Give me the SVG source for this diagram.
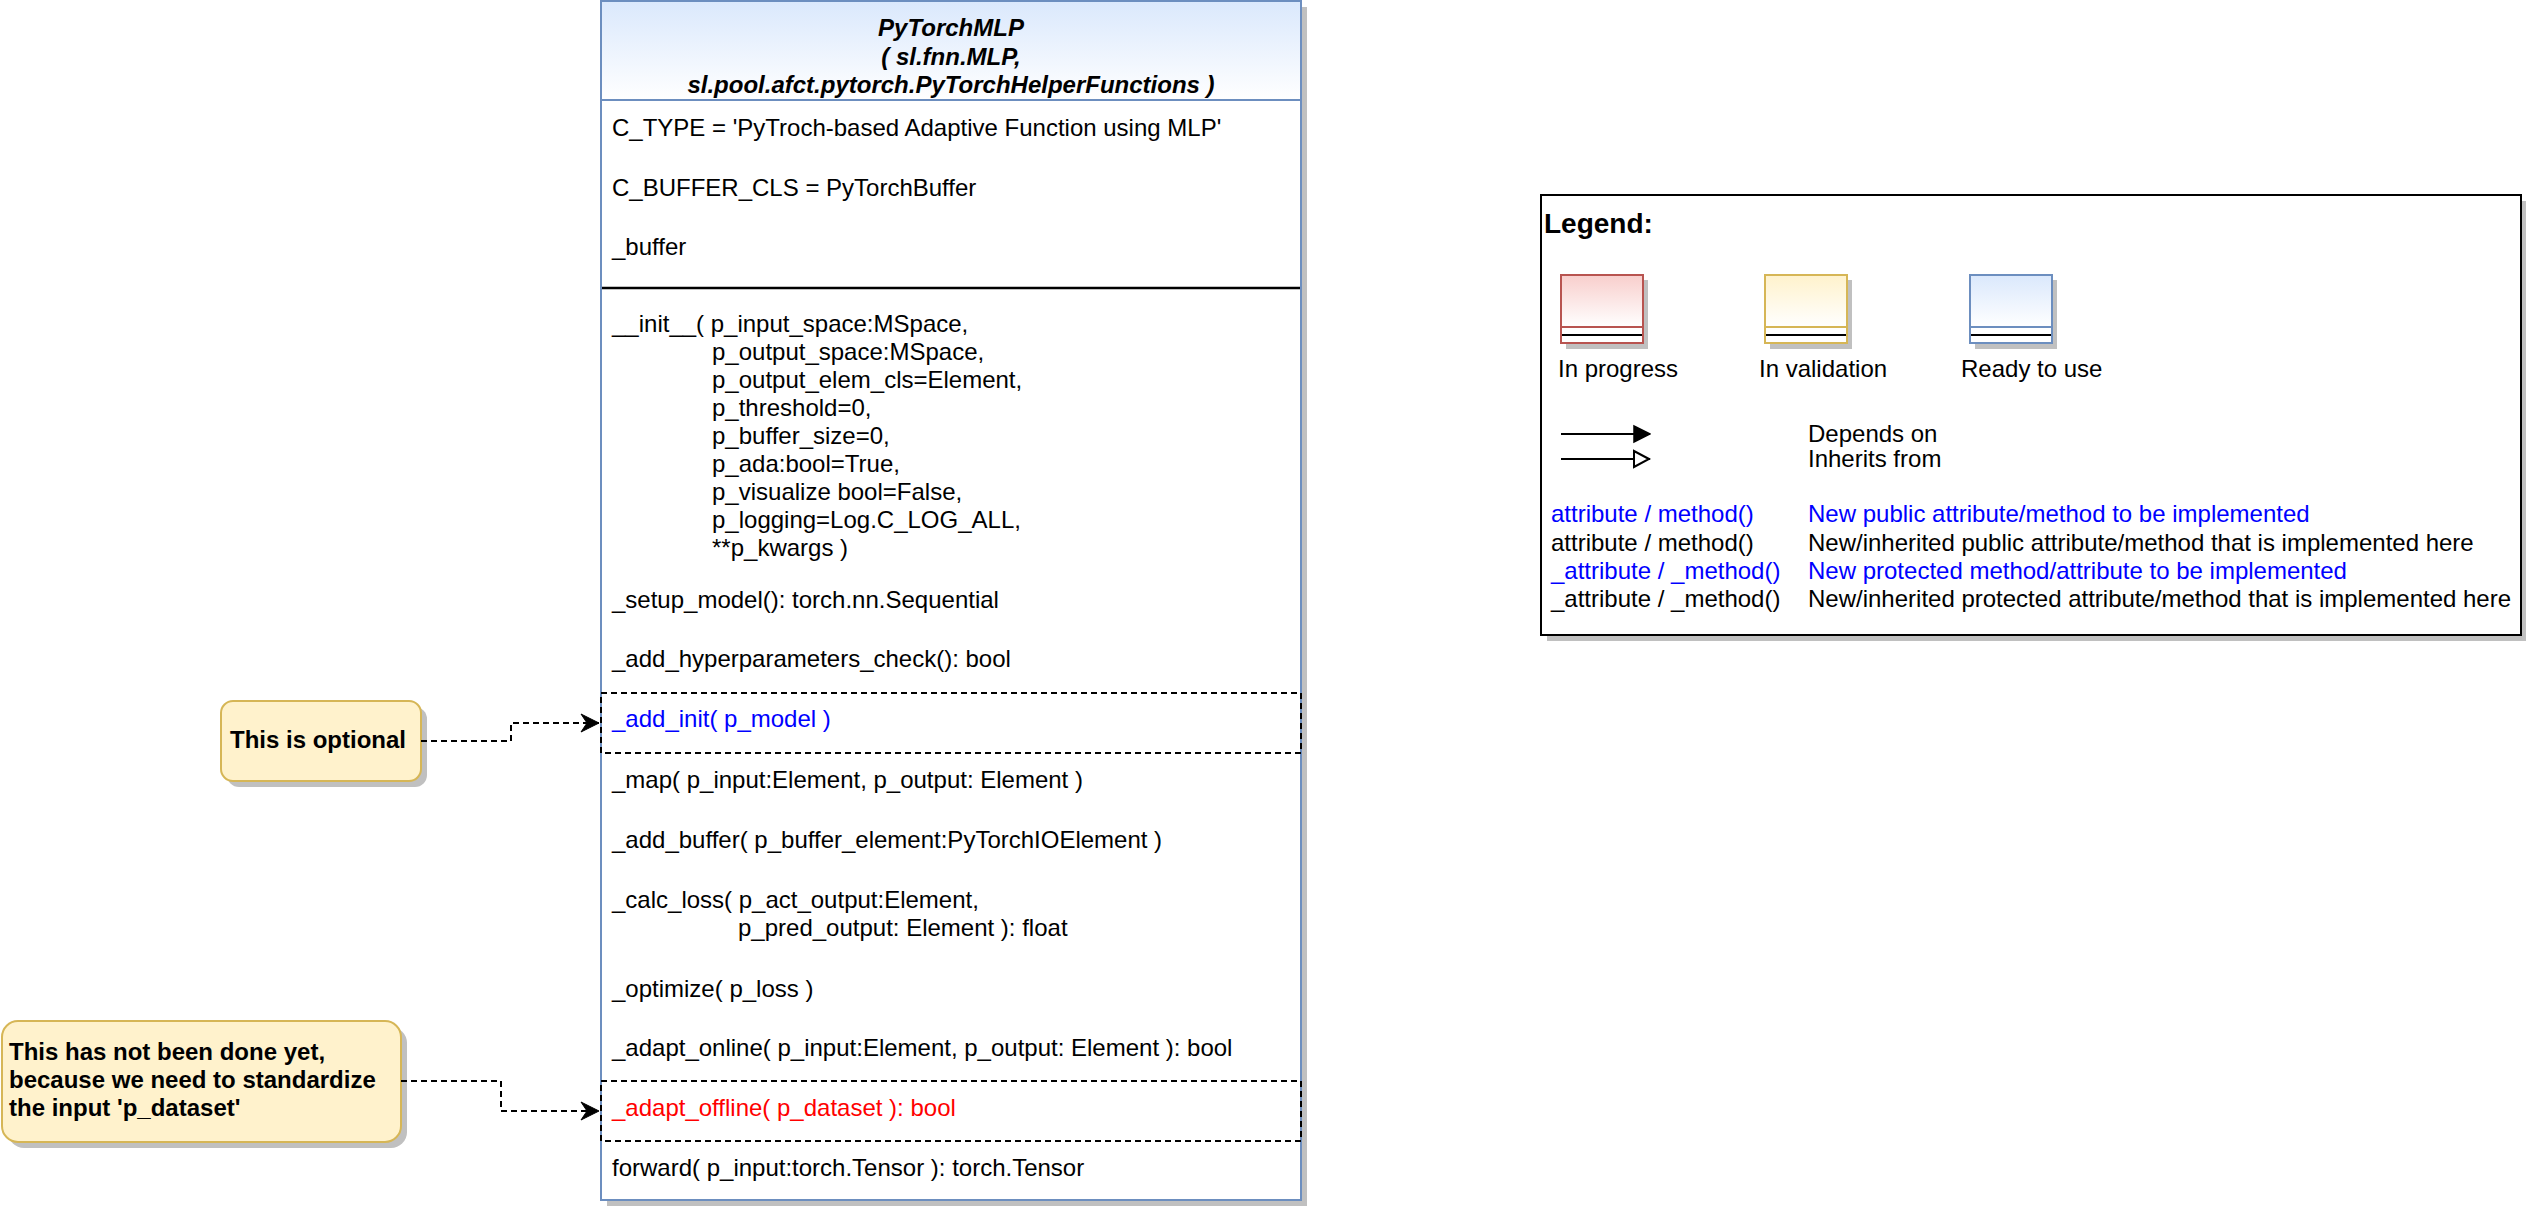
<svg xmlns="http://www.w3.org/2000/svg" width="2526" height="1208" viewBox="0 0 2526 1208">
<defs>
<linearGradient id="gBlue" x1="0" y1="0" x2="0" y2="1"><stop offset="0" stop-color="#dae8fc"/><stop offset="1" stop-color="#ffffff"/></linearGradient>
<linearGradient id="gRed" x1="0" y1="0" x2="0" y2="1"><stop offset="0" stop-color="#f8cecc"/><stop offset="1" stop-color="#ffffff"/></linearGradient>
<linearGradient id="gYellow" x1="0" y1="0" x2="0" y2="1"><stop offset="0" stop-color="#fff2cc"/><stop offset="1" stop-color="#ffffff"/></linearGradient>
<marker id="classic" markerUnits="userSpaceOnUse" markerWidth="20" markerHeight="20" viewBox="-19 -10 20 20" refX="0" refY="0" orient="auto">
<path d="M0,0 L-18,-9 L-12,0 L-18,9 Z" fill="#000" stroke="#000" stroke-width="1"/>
</marker>
<marker id="block" markerUnits="userSpaceOnUse" markerWidth="20" markerHeight="20" viewBox="-19 -10 20 20" refX="0" refY="0" orient="auto">
<path d="M0,0 L-16,-8 L-16,8 Z" fill="#000" stroke="#000" stroke-width="1.5"/>
</marker>
<marker id="blockOpen" markerUnits="userSpaceOnUse" markerWidth="20" markerHeight="20" viewBox="-19 -10 20 20" refX="0" refY="0" orient="auto">
<path d="M-1,0 L-16,-8 L-16,8 Z" fill="#fff" stroke="#000" stroke-width="2"/>
</marker>
</defs>
<style>
text { font-family: "Liberation Sans", Arial, Helvetica, sans-serif; font-size: 24px; fill: #000; }
.b { font-weight: bold; }
.bi { font-weight: bold; font-style: italic; }
.blue { fill: #0000ff; }
.red { fill: #ff0000; }
.shadow { fill: #c0c0c0; stroke: none; }
.dash { fill: none; stroke: #000; stroke-width: 2; stroke-dasharray: 6 4; }
.conn { fill: none; stroke: #000; stroke-width: 2; stroke-dasharray: 6 4; }
.note { fill: #fff2cc; stroke: #d6b656; stroke-width: 2; }
</style>
<rect x="0" y="0" width="2526" height="1208" fill="#ffffff"/>

<g id="PyTorchMLP">
<rect class="shadow" x="607" y="7" width="700" height="1199"/>
<rect x="601" y="1" width="700" height="1199" fill="#ffffff" stroke="none"/>
<rect x="601" y="1" width="700" height="99" fill="url(#gBlue)" stroke="none"/>
<line x1="601" y1="100" x2="1301" y2="100" stroke="#6c8ebf" stroke-width="2"/>
<text class="bi" x="951" y="36" text-anchor="middle">PyTorchMLP</text>
<text class="bi" x="951" y="65" text-anchor="middle">( sl.fnn.MLP,</text>
<text class="bi" x="951" y="93" text-anchor="middle">sl.pool.afct.pytorch.PyTorchHelperFunctions )</text>
<text x="612" y="136">C_TYPE = 'PyTroch-based Adaptive Function using MLP'</text>
<text x="612" y="196">C_BUFFER_CLS = PyTorchBuffer</text>
<text x="612" y="255">_buffer</text>
<line x1="601" y1="288" x2="1301" y2="288" stroke="#000" stroke-width="2.5"/>
<text x="612" y="332">__init__( p_input_space:MSpace,</text>
<text x="712" y="360">p_output_space:MSpace,</text>
<text x="712" y="388">p_output_elem_cls=Element,</text>
<text x="712" y="416">p_threshold=0,</text>
<text x="712" y="444">p_buffer_size=0,</text>
<text x="712" y="472">p_ada:bool=True,</text>
<text x="712" y="500">p_visualize bool=False,</text>
<text x="712" y="528">p_logging=Log.C_LOG_ALL,</text>
<text x="712" y="556">**p_kwargs )</text>
<text x="612" y="608">_setup_model(): torch.nn.Sequential</text>
<text x="612" y="667">_add_hyperparameters_check(): bool</text>
<text x="612" y="788">_map( p_input:Element, p_output: Element )</text>
<text x="612" y="848">_add_buffer( p_buffer_element:PyTorchIOElement )</text>
<text x="612" y="908">_calc_loss( p_act_output:Element,</text>
<text x="738" y="936">p_pred_output: Element ): float</text>
<text x="612" y="997">_optimize( p_loss )</text>
<text x="612" y="1056">_adapt_online( p_input:Element, p_output: Element ): bool</text>
<text x="612" y="1176">forward( p_input:torch.Tensor ): torch.Tensor</text>
<rect x="601" y="1" width="700" height="1199" fill="none" stroke="#6c8ebf" stroke-width="2"/>
</g>

<g id="add_init">
<rect class="dash" x="601" y="693" width="700" height="60"/>
<text class="blue" x="612" y="727">_add_init( p_model )</text>
</g>

<g id="adapt_offline">
<rect class="dash" x="601" y="1081" width="700" height="60"/>
<text class="red" x="612" y="1116">_adapt_offline( p_dataset ): bool</text>
</g>

<g id="note_optional">
<rect class="shadow" x="227" y="707" width="200" height="80" rx="12" ry="12"/>
<rect class="note" x="221" y="701" width="200" height="80" rx="12" ry="12"/>
<text class="b" x="230" y="748">This is optional</text>
</g>

<g id="note_not_done">
<rect class="shadow" x="8" y="1027" width="399" height="121" rx="16" ry="16"/>
<rect class="note" x="2" y="1021" width="399" height="121" rx="16" ry="16"/>
<text class="b" x="9" y="1060">This has not been done yet,</text>
<text class="b" x="9" y="1088">because we need to standardize</text>
<text class="b" x="9" y="1116">the input 'p_dataset'</text>
</g>

<g id="connectors">
<path class="conn" d="M421,741 L511,741 L511,723 L599,723" marker-end="url(#classic)"/>
<path class="conn" d="M401,1081 L501,1081 L501,1111 L599,1111" marker-end="url(#classic)"/>
</g>

<g id="legend">
<rect class="shadow" x="1547" y="201" width="980" height="440"/>
<rect x="1541" y="195" width="980" height="440" fill="#ffffff" stroke="#000" stroke-width="2"/>
<text class="b" x="1544" y="233" style="font-size:28px">Legend:</text>

<g id="legend_in_progress">
<rect class="shadow" x="1566" y="280" width="82" height="69"/>
<rect x="1561" y="275" width="82" height="68" fill="#ffffff"/>
<rect x="1561" y="275" width="82" height="52" fill="url(#gRed)"/>
<line x1="1561" y1="327" x2="1643" y2="327" stroke="#b85450" stroke-width="2"/>
<line x1="1561" y1="335" x2="1643" y2="335" stroke="#000" stroke-width="2"/>
<rect x="1561" y="275" width="82" height="68" fill="none" stroke="#b85450" stroke-width="2"/>
<text x="1558" y="377">In progress</text>
</g>

<g id="legend_in_validation">
<rect class="shadow" x="1770" y="280" width="82" height="69"/>
<rect x="1765" y="275" width="82" height="68" fill="#ffffff"/>
<rect x="1765" y="275" width="82" height="52" fill="url(#gYellow)"/>
<line x1="1765" y1="327" x2="1847" y2="327" stroke="#d6b656" stroke-width="2"/>
<line x1="1765" y1="335" x2="1847" y2="335" stroke="#000" stroke-width="2"/>
<rect x="1765" y="275" width="82" height="68" fill="none" stroke="#d6b656" stroke-width="2"/>
<text x="1759" y="377">In validation</text>
</g>

<g id="legend_ready">
<rect class="shadow" x="1975" y="280" width="82" height="69"/>
<rect x="1970" y="275" width="82" height="68" fill="#ffffff"/>
<rect x="1970" y="275" width="82" height="52" fill="url(#gBlue)"/>
<line x1="1970" y1="327" x2="2052" y2="327" stroke="#6c8ebf" stroke-width="2"/>
<line x1="1970" y1="335" x2="2052" y2="335" stroke="#000" stroke-width="2"/>
<rect x="1970" y="275" width="82" height="68" fill="none" stroke="#6c8ebf" stroke-width="2"/>
<text x="1961" y="377">Ready to use</text>
</g>

<line x1="1561" y1="434" x2="1650" y2="434" stroke="#000" stroke-width="2" marker-end="url(#block)"/>
<line x1="1561" y1="459" x2="1650" y2="459" stroke="#000" stroke-width="2" marker-end="url(#blockOpen)"/>
<text x="1808" y="442">Depends on</text>
<text x="1808" y="467">Inherits from</text>

<text class="blue" x="1551" y="522">attribute / method()</text>
<text class="blue" x="1808" y="522">New public attribute/method to be implemented</text>
<text x="1551" y="551">attribute / method()</text>
<text x="1808" y="551">New/inherited public attribute/method that is implemented here</text>
<text class="blue" x="1551" y="579">_attribute / _method()</text>
<text class="blue" x="1808" y="579">New protected method/attribute to be implemented</text>
<text x="1551" y="607">_attribute / _method()</text>
<text x="1808" y="607">New/inherited protected attribute/method that is implemented here</text>
</g>
</svg>
